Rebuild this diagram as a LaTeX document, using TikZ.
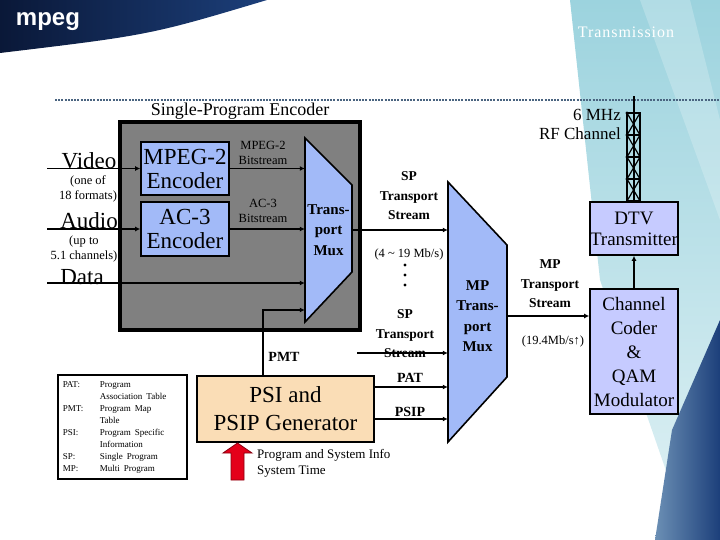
\documentclass[tikz,border=0pt]{standalone}
\usepackage{fontspec}
\setmainfont{Liberation Serif}
\newfontfamily\logofont{Liberation Sans}
\usepackage{tikz}
\usetikzlibrary{arrows.meta,positioning,calc}
\definecolor{figNavy}{HTML}{0A1838}
\definecolor{figDeep}{HTML}{1C3F7A}
\definecolor{figTeal}{HTML}{9CD3DE}
\definecolor{figSea}{HTML}{3A6A9C}
\definecolor{figSlate}{HTML}{4A6480}
\definecolor{figGray}{HTML}{808080}
\definecolor{figBlue}{HTML}{A2BAF8}
\definecolor{figLav}{HTML}{C6CBFF}
\definecolor{figSand}{HTML}{FADDB6}
\definecolor{figRed}{HTML}{E4001A}

\begin{document}
\begin{tikzpicture}[x=1pt,y=-1pt,
  every node/.style={font=\fontsize{12.5}{15}\selectfont, inner sep=0pt, align=center},
  enc/.style={draw, line width=1.6pt, fill=figBlue, minimum width=88pt,
              font=\fontsize{23}{24}\selectfont},
  muxtext/.style={font=\bfseries\fontsize{15}{20.5}\selectfont},
  blk/.style={draw, line width=1.6pt, fill=figLav, minimum width=88pt,
              font=\fontsize{19}{24}\selectfont},
  lbl/.style={font=\bfseries\fontsize{13.5}{19.5}\selectfont},
  big/.style={font=\fontsize{23}{24}\selectfont},
  arr/.style={-{Latex[length=5pt,width=5pt]}, line width=1.6pt},
]
\useasboundingbox (0,0) rectangle (720,540);

% backdrop
\shade[top color=figTeal, bottom color=figTeal!30!white]
  (570,0) -- (720,0) -- (720,540) -- (690,540) -- (600,280) -- cycle;
\fill[white, opacity=0.22] (640,0) -- (690,0) -- (720,120) -- (720,220) -- cycle;
\shade[left color=figSea!75!white, right color=figDeep]
  (720,320) -- (720,540) -- (655,540) -- (672,430) -- cycle;
\shade[left color=figNavy, right color=figDeep]
  (0,0) -- (267,0) .. controls (150,35) .. (0,53) -- cycle;
\node[font=\logofont\bfseries\fontsize{24}{24}\selectfont, text=white] (logo) at (48,22) {mpeg};
\node[font=\fontsize{16}{16}\selectfont\addfontfeature{LetterSpace=6}, text=white] (topic) at (626,32) {Transmission};
\draw[figSlate, line width=2.5pt, dash pattern=on 2pt off 1.2pt] (55,100) -- (720,100);

% single-program encoder
\node[draw, line width=4pt, fill=figGray, minimum width=240pt, minimum height=208pt] (spe) at (240,226) {};
\node[font=\fontsize{18}{20}\selectfont] (spetitle) at (240,111) {Single-Program Encoder};
\node[enc, minimum height=53pt] (mpeg) at (185,168.5) {MPEG-2\\Encoder};
\node[enc, minimum height=54pt] (ac3) at (185,229) {AC-3\\Encoder};
\fill[figBlue, draw=black, line width=1.6pt] (305,138) -- (352,185) -- (352,272) -- (305,322) -- cycle;
\node[muxtext, minimum width=47pt, minimum height=184pt] (tmux) at (328.5,230) {Trans-\\port\\Mux};

% inputs
\coordinate (vin) at (47,168.5);
\coordinate (ain) at (47,229);
\coordinate (din) at (47,283);
\node[big, anchor=south] (video) at (89,169) {Video};
\node[font=\fontsize{12.5}{14.5}\selectfont] (vnote) at (88,189) {(one of\\18 formats)};
\node[big, anchor=south] (audio) at (89,229) {Audio};
\node[font=\fontsize{12.5}{14.5}\selectfont] (anote) at (84,249) {(up to\\5.1 channels)};
\node[big, anchor=south] (data) at (82,285) {Data};
\draw[arr] (vin) -- (mpeg.west);
\draw[arr] (ain) -- (ac3.west);
\draw[arr] (din) -- (din -| tmux.west);
\draw[arr] (mpeg.east) -- (mpeg.east -| tmux.west);
\draw[arr] (ac3.east) -- (ac3.east -| tmux.west);
\node (mbits) at (263,153) {MPEG-2\\Bitstream};
\node (abits) at (263,211) {AC-3\\Bitstream};

% PSI / PSIP generator
\node[draw, line width=1.6pt, fill=figSand, minimum width=177pt, minimum height=66pt,
      font=\fontsize{23}{28}\selectfont] (psi) at (285.5,409) {PSI and\\PSIP Generator};
\draw[arr] ([xshift=-22.5pt]psi.north) |- ([yshift=-80pt]tmux.west);
\node[font=\bfseries\fontsize{14}{14}\selectfont] (pmt) at (284,357) {PMT};
\filldraw[fill=figRed, draw=figRed!60!black, line width=0.8pt]
  (231,480) -- (231,453) -- (223,453) -- (237.5,443) -- (252,453) -- (244,453) -- (244,480) -- cycle;
\node[anchor=west, align=left, font=\fontsize{13}{16}\selectfont] (sysinfo) at (257,463)
  {Program and System Info\\System Time};

% legend
\node[draw, line width=1.6pt, fill=white, anchor=north west, minimum width=129pt,
      minimum height=104pt, text width=119pt, align=left, inner xsep=5pt]
  (legend) at (57,374) {\fontsize{9}{12}\selectfont
  \begin{tabular}{@{}p{37pt}@{}l@{}}
  PAT: & Program\\
       & Association Table\\
  PMT: & Program Map\\
       & Table\\
  PSI: & Program Specific\\
       & Information\\
  SP:  & Single Program\\
  MP:  & Multi Program
  \end{tabular}};

% multi-program mux
\fill[figBlue, draw=black, line width=1.6pt] (448,182) -- (507,245) -- (507,377) -- (448,442) -- cycle;
\node[muxtext, minimum width=59pt, minimum height=260pt] (mpmux) at (477.5,316) {MP\\Trans-\\port\\Mux};
\draw[arr] (tmux.east) -- (tmux.east -| mpmux.west);
\node[lbl] (sp1) at (409,196) {SP\\Transport\\Stream};
\node (rate) at (409,254) {(4 \textasciitilde\ 19 Mb/s)};
\foreach \y in {265,275,285} \fill (405,\y) circle (1.7pt);
\coordinate (spin) at (357,353);
\node[lbl] (sp2) at (405,334) {SP\\Transport\\Stream};
\draw[arr] (spin) -- (spin -| mpmux.west);
\draw[arr] ([yshift=22pt]psi.east) -- ([yshift=22pt]psi.east -| mpmux.west);
\draw[arr] ([yshift=-10pt]psi.east) -- ([yshift=-10pt]psi.east -| mpmux.west);
\node[font=\bfseries\fontsize{14}{14}\selectfont] (pat) at (410,378) {PAT};
\node[font=\bfseries\fontsize{14}{14}\selectfont] (psip) at (410,412) {PSIP};

% transmission chain
\node[blk, minimum height=125pt] (coder) at (634,351.5) {Channel\\Coder\\\&\\QAM\\Modulator};
\node[blk, minimum height=53pt, font=\fontsize{19}{21}\selectfont] (dtv) at (634,228.5) {DTV\\Transmitter};
\draw[arr] (mpmux.east) -- (mpmux.east -| coder.west);
\node[lbl] (mpts) at (550,284) {MP\\Transport\\Stream};
\node (mprate) at (553,341) {(19.4Mb/s↑)};
\draw[arr] (coder.north) -- (dtv.south);

% antenna tower
\draw[line width=2pt] (dtv.north) -- ++(0,-105);
\foreach \k in {0,...,3} {
  \draw[line width=1.5pt] (627,113+22*\k) rectangle (640,135+22*\k);
  \draw[line width=1.2pt] (627,113+22*\k) -- (640,135+22*\k) (640,113+22*\k) -- (627,135+22*\k);
  \fill (627,113+22*\k) circle (1.6pt);
}
\node[anchor=east, align=right, font=\fontsize{17}{19}\selectfont] (rf) at (621,124) {6 MHz\\RF Channel};

\end{tikzpicture}
\end{document}
